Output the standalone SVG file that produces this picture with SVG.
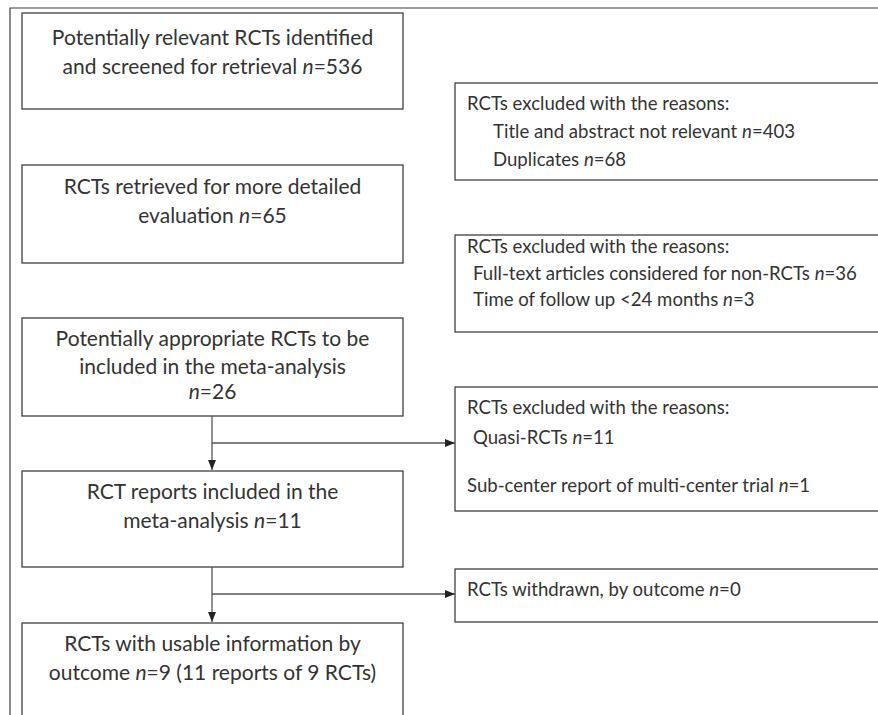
<svg xmlns="http://www.w3.org/2000/svg" width="878" height="715" viewBox="0 0 878 715">
<style>
.box{fill:#fff;stroke:#404040;stroke-width:1.3}
.frame{fill:none;stroke:#404040;stroke-width:1.2}
.t{font-family:Lato,"Liberation Sans",sans-serif;font-size:18.6px;fill:#333}
.c{text-anchor:middle;font-size:21px}
.i{font-style:italic}
.conn{fill:none;stroke:#555;stroke-width:1.3}
</style>
<defs>
<marker id="ah" viewBox="0 0 10 10" refX="10" refY="5" markerWidth="10" markerHeight="10" markerUnits="userSpaceOnUse" orient="auto">
<path d="M0,1 L10,5 L0,9 Z" fill="#222"/>
</marker>
</defs>
<rect width="878" height="715" fill="#fff"/>
<path class="frame" d="M10,715 V8 H878"/>
<g id="n1">
<rect class="box" x="22" y="13" width="381" height="96"/>
<text class="t c" x="212.5" y="45">Potentially relevant RCTs identified</text>
<text class="t c" x="212.5" y="74">and screened for retrieval <tspan class="i">n</tspan>=536</text>
</g>
<g id="x1">
<rect class="box" x="455" y="83" width="430" height="97"/>
<text class="t" x="467" y="110">RCTs excluded with the reasons:</text>
<text class="t" x="493" y="138">Title and abstract not relevant <tspan class="i">n</tspan>=403</text>
<text class="t" x="493" y="166">Duplicates <tspan class="i">n</tspan>=68</text>
</g>
<g id="n2">
<rect class="box" x="22" y="165" width="381" height="98"/>
<text class="t c" x="212.5" y="194">RCTs retrieved for more detailed</text>
<text class="t c" x="212.5" y="223">evaluation <tspan class="i">n</tspan>=65</text>
</g>
<g id="x2">
<rect class="box" x="455" y="235" width="430" height="97"/>
<text class="t" x="467" y="253">RCTs excluded with the reasons:</text>
<text class="t" x="473" y="280">Full-text articles considered for non-RCTs <tspan class="i">n</tspan>=36</text>
<text class="t" x="473" y="306">Time of follow up &lt;24 months <tspan class="i">n</tspan>=3</text>
</g>
<g id="n3">
<rect class="box" x="22" y="318" width="381" height="98"/>
<text class="t c" x="212.5" y="346">Potentially appropriate RCTs to be</text>
<text class="t c" x="212.5" y="374">included in the meta-analysis</text>
<text class="t c" x="212.5" y="399"><tspan class="i">n</tspan>=26</text>
</g>
<g id="x3">
<rect class="box" x="455" y="387" width="430" height="124"/>
<text class="t" x="467" y="414">RCTs excluded with the reasons:</text>
<text class="t" x="473" y="444">Quasi-RCTs <tspan class="i">n</tspan>=11</text>
<text class="t" x="467" y="492">Sub-center report of multi-center trial <tspan class="i">n</tspan>=1</text>
</g>
<g id="n4">
<rect class="box" x="22" y="471" width="381" height="96"/>
<text class="t c" x="212.5" y="499">RCT reports included in the</text>
<text class="t c" x="212.5" y="528">meta-analysis <tspan class="i">n</tspan>=11</text>
</g>
<g id="x4">
<rect class="box" x="455" y="569" width="430" height="53"/>
<text class="t" x="467" y="596">RCTs withdrawn, by outcome <tspan class="i">n</tspan>=0</text>
</g>
<g id="n5">
<rect class="box" x="22" y="623" width="381" height="110"/>
<text class="t c" x="212.5" y="651">RCTs with usable information by</text>
<text class="t c" x="212.5" y="680">outcome <tspan class="i">n</tspan>=9 (11 reports of 9 RCTs)</text>
</g>
<g id="connectors">
<path class="conn" d="M212,416 V470" marker-end="url(#ah)"/>
<path class="conn" d="M212,443 H455" marker-end="url(#ah)"/>
<path class="conn" d="M212,567 V622" marker-end="url(#ah)"/>
<path class="conn" d="M212,594 H455" marker-end="url(#ah)"/>
</g>
</svg>
